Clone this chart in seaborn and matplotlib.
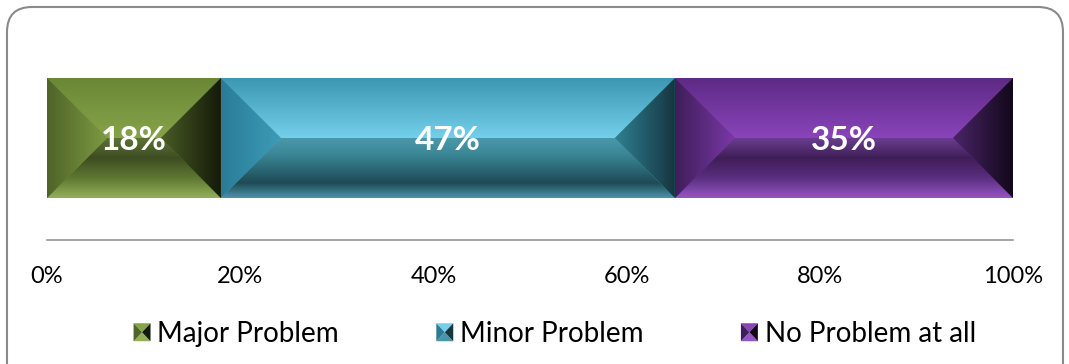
import numpy as np
import pandas as pd
import matplotlib
matplotlib.use("Agg")
import matplotlib.pyplot as plt
import seaborn as sns
from matplotlib.patches import Polygon, FancyBboxPatch, Rectangle
from matplotlib.colors import LinearSegmentedColormap
from matplotlib.legend_handler import HandlerBase
from matplotlib.transforms import IdentityTransform

# ---------------- data ----------------
categories = ["Major Problem", "Minor Problem", "No Problem at all"]
shares = [18, 47, 35]
value_labels = ["18%", "47%", "35%"]
tick_values = [0, 20, 40, 60, 80, 100]
tick_labels = ["0%", "20%", "40%", "60%", "80%", "100%"]

base_colors = ["#77933C", "#4BACC6", "#7030A0"]
# bevel gradient stops per segment: top, bottom, left, right
bevels = [
    dict(top=["#6A8736", "#86A34A"],
         bottom=["#5C7234", "#3E4D22", "#5E7832", "#93B058"],
         left=["#4E6428", "#7D9A42"],
         right=["#4A5C26", "#141A08"]),
    dict(top=["#3C98B2", "#74D0EA"],
         bottom=["#4A98A8", "#3C8898", "#2C6A78", "#1F4A55", "#4A96A8"],
         left=["#2A7C96", "#3C9CB8"],
         right=["#2F8092", "#163640"]),
    dict(top=["#5E2A85", "#8944BA"],
         bottom=["#6A3E90", "#3E1E57", "#5A2E80", "#9456C4"],
         left=["#3E1E58", "#7A38A8"],
         right=["#4A2468", "#12081A"]),
]

plt.rcParams["font.family"] = ["Lato", "DejaVu Sans"]

W, H, DPI = 1069, 364, 100
fig = plt.figure(figsize=(W / DPI, H / DPI), dpi=DPI)
fig.patch.set_facecolor("white")

# axes placed in pixel terms
ax_left, ax_right = 47, 1013
ax_top, ax_bottom = 60, 240
ax = fig.add_axes([ax_left / W, 1 - ax_bottom / H,
                   (ax_right - ax_left) / W, (ax_bottom - ax_top) / H])

# stacked bar via cumulative overlay
cum = np.cumsum(shares)
starts = cum - np.array(shares)
df = pd.DataFrame({"category": categories, "share": shares,
                   "cum": cum, "row": ["All"] * len(shares)})
for i in reversed(range(len(categories))):
    sns.barplot(data=df.iloc[[i]], x="cum", y="row", orient="h",
                color=base_colors[i], width=0.8, ax=ax,
                edgecolor="none", linewidth=0, saturation=1)

ax.set_xlim(0, 100)
ax.set_ylim(-0.68, 0.52)

# bevel overlay computed from bar geometry
bar_h = 0.8
yt, yb, ym = bar_h / 2, -bar_h / 2, 0.0
px_x = ax.bbox.width / 100.0
px_y = ax.bbox.height / 1.2
d = (bar_h / 2) * px_y / px_x


def grad_fill(poly, stops, direction):
    patch = Polygon(poly, closed=True, facecolor="none", edgecolor="none")
    ax.add_patch(patch)
    cmap = LinearSegmentedColormap.from_list("g", stops)
    xs = [p[0] for p in poly]
    ys = [p[1] for p in poly]
    n = 256
    extent = (min(xs), max(xs), min(ys), max(ys))
    if direction == "v":  # first stop at top of region
        img = np.linspace(1, 0, n).reshape(n, 1)
    else:  # horizontal, first stop at left
        img = np.linspace(0, 1, n).reshape(1, n)
    im = ax.imshow(img, cmap=cmap, extent=extent, origin="lower",
                   aspect="auto", interpolation="bilinear", zorder=3)
    im.set_clip_path(patch)


for i, (x0, w) in enumerate(zip(starts, shares)):
    x1 = x0 + w
    b = bevels[i]
    grad_fill([(x0, yt), (x1, yt), (x1 - d, ym), (x0 + d, ym)], b["top"], "v")
    grad_fill([(x0, yb), (x1, yb), (x1 - d, ym), (x0 + d, ym)], b["bottom"], "v")
    grad_fill([(x0, yt), (x0 + d, ym), (x0, yb)], b["left"], "h")
    grad_fill([(x1, yt), (x1 - d, ym), (x1, yb)], b["right"], "h")
    ax.text(x0 + w / 2, -0.02, value_labels[i], ha="center", va="center",
            color="white", fontsize=24, fontweight="bold", zorder=5)

ax.set_xlim(0, 100)
ax.set_ylim(-0.68, 0.52)

# axes styling
for s in ["top", "right", "left"]:
    ax.spines[s].set_visible(False)
ax.spines["bottom"].set_color("#8C8C8C")
ax.spines["bottom"].set_linewidth(1.1)
ax.set_xticks(tick_values)
ax.set_xticklabels(tick_labels)
ax.tick_params(axis="x", length=0, pad=19, labelsize=17, labelcolor="black")
ax.set_yticks([])
ax.set_xlabel("")
ax.set_ylabel("")
ax.set_facecolor("none")


# legend with beveled icons
class BevelHandler(HandlerBase):
    def __init__(self, cols):
        super().__init__()
        self.cols = cols

    def create_artists(self, legend, orig_handle, xdescent, ydescent,
                       width, height, fontsize, trans):
        x0, y0 = -xdescent, -ydescent
        x1, y1 = x0 + width, y0 + height
        cx, cy = (x0 + x1) / 2, (y0 + y1) / 2
        c = self.cols
        tris = [
            ([(x0, y1), (x1, y1), (cx, cy)], c["top"][1]),
            ([(x0, y0), (x1, y0), (cx, cy)], c["bottom"][-1]),
            ([(x0, y0), (x0, y1), (cx, cy)], c["left"][0]),
            ([(x1, y0), (x1, y1), (cx, cy)], c["right"][1]),
        ]
        return [Polygon(pts, closed=True, facecolor=col, edgecolor="none",
                        transform=trans) for pts, col in tris]


handles = [Rectangle((0, 0), 1, 1, color=c) for c in base_colors]
handler_map = {h: BevelHandler(bevels[i]) for i, h in enumerate(handles)}
fig.legend(handles, categories, handler_map=handler_map, loc="center",
           bbox_to_anchor=(0.519, 0.0824), ncol=3, frameon=False,
           fontsize=20, handlelength=0.61, handleheight=0.62,
           handletextpad=0.25, columnspacing=3.5, borderpad=0)

# rounded chart border
border = FancyBboxPatch((7, -30), 1056, 364 - 7 + 30,
                        boxstyle="round,pad=0,rounding_size=25",
                        transform=IdentityTransform(), facecolor="none",
                        edgecolor="#8A8A8A", linewidth=1.5)
fig.patches.append(border)

fig.savefig("out.png", dpi=DPI, facecolor="white")
